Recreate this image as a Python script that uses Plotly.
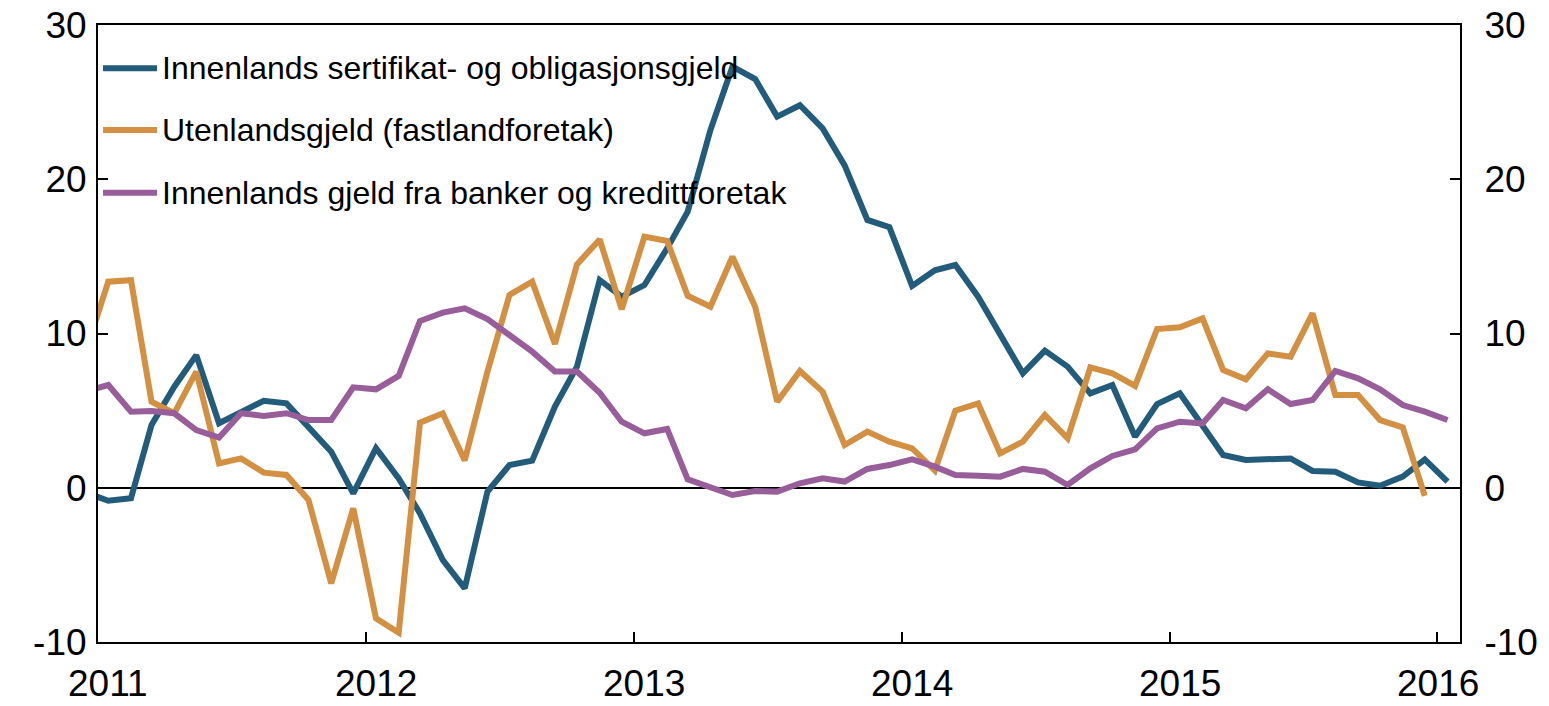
import plotly.graph_objects as go
import pandas as pd

# Monthly observations, Dec 2010 .. Jan 2016 (plotted at mid-month)
months = pd.date_range("2010-12-01", "2016-01-01", freq="MS") + pd.Timedelta(days=14)

# Innenlands sertifikat- og obligasjonsgjeld (Dec 2010 .. Jan 2016)
sertifikat = [
    -0.3,
    -0.84, -0.68, 4.07, 6.55, 8.6, 4.18, 4.93, 5.64, 5.47, 3.96, 2.34, -0.36,
    2.56, 0.61, -1.66, -4.68, -6.52, -0.25, 1.47, 1.76, 5.26, 7.85, 13.47, 12.39,
    13.14, 15.52, 17.9, 23.19, 27.3, 26.5, 24.06, 24.8, 23.3, 20.9, 17.36, 16.9,
    13.08, 14.1, 14.44, 12.39, 9.9, 7.42, 8.89, 7.85, 6.12, 6.66, 3.31, 5.43,
    6.12, 4.07, 2.12, 1.8, 1.86, 1.9, 1.09, 1.04, 0.35, 0.13, 0.72, 1.84,
    0.4,
]

# Utenlandsgjeld (fastlandforetak) (Dec 2010 .. Dec 2015)
utenlands = [
    8.8,
    13.36, 13.45, 5.58, 4.83, 7.53, 1.58, 1.9, 0.98, 0.83, -0.79, -6.2, -1.33,
    -8.47, -9.4, 4.22, 4.83, 1.76, 7.53, 12.5, 13.36, 9.32, 14.48, 16.1, 11.57,
    16.28, 16.0, 12.45, 11.74, 14.98, 11.74, 5.58, 7.57, 6.23, 2.77, 3.64, 2.99,
    2.55, 1.11, 5.0, 5.47, 2.23, 2.99, 4.72, 3.2, 7.81, 7.42, 6.6, 10.29,
    10.4, 10.98, 7.63, 7.03, 8.71, 8.5, 11.31, 6.01, 6.01, 4.39, 3.92, -0.53,
]

# Innenlands gjeld fra banker og kredittforetak (Dec 2010 .. Jan 2016)
banker = [
    6.25,
    6.66, 4.93, 4.98, 4.83, 3.74, 3.25, 4.83, 4.65, 4.83, 4.39, 4.39, 6.51,
    6.38, 7.25, 10.81, 11.35, 11.63, 10.94, 9.9, 8.82, 7.53, 7.53, 6.16, 4.28,
    3.53, 3.81, 0.55, 0.0, -0.47, -0.21, -0.25, 0.29, 0.61, 0.4, 1.22, 1.47,
    1.84, 1.37, 0.83, 0.78, 0.72, 1.22, 1.04, 0.18, 1.26, 2.06, 2.49, 3.85,
    4.28, 4.17, 5.69, 5.15, 6.38, 5.43, 5.69, 7.57, 7.09, 6.38, 5.36, 4.93,
    4.39,
]

series_names = [
    "Innenlands sertifikat- og obligasjonsgjeld",
    "Utenlandsgjeld (fastlandforetak)",
    "Innenlands gjeld fra banker og kredittforetak",
]
colors = ["#235b7b", "#d38f42", "#975e9a"]

year_ticks = ["2011-01-01", "2012-01-01", "2013-01-01", "2014-01-01", "2015-01-01", "2016-01-01"]
year_labels = ["2011", "2012", "2013", "2014", "2015", "2016"]
y_ticks = [-10, 0, 10, 20, 30]
y_labels = ["-10", "0", "10", "20", "30"]

FONT = "Arial, 'Liberation Sans', sans-serif"
TICK_SIZE = 37

fig = go.Figure()
for name, vals, col in zip(series_names, [sertifikat, utenlands, banker], colors):
    fig.add_trace(go.Scatter(
        x=months[:len(vals)], y=vals, mode="lines", name=name,
        line=dict(color=col, width=6), showlegend=False,
    ))
# invisible trace for right axis
fig.add_trace(go.Scatter(x=[months[1]], y=[0], yaxis="y2", mode="lines",
                         showlegend=False, hoverinfo="skip", line=dict(width=0)))

fig.update_layout(
    width=1549, height=706,
    margin=dict(l=98, r=89, t=25, b=64, autoexpand=False),
    paper_bgcolor="white", plot_bgcolor="white",
    font=dict(family=FONT, size=TICK_SIZE, color="black"),
    xaxis=dict(
        range=["2011-01-01", "2016-02-01"],
        tickvals=year_ticks, showticklabels=False, automargin=False,
        ticks="inside", ticklen=10, tickwidth=2, tickcolor="black",
        showline=True, linecolor="black", linewidth=2, mirror=True,
        showgrid=False, zeroline=False,
    ),
    yaxis=dict(
        range=[-10, 30], tickvals=y_ticks, ticktext=y_labels, automargin=False,
        ticks="inside", ticklen=10, tickwidth=2, tickcolor="black",
        showline=True, linecolor="black", linewidth=2,
        showgrid=False, zeroline=True, zerolinecolor="black", zerolinewidth=1.5,
        ticklabelstandoff=2, tickfont=dict(size=TICK_SIZE),
    ),
    yaxis2=dict(
        range=[-10, 30], tickvals=y_ticks, ticktext=y_labels, automargin=False,
        overlaying="y", side="right",
        ticks="inside", ticklen=10, tickwidth=2, tickcolor="black",
        showline=True, linecolor="black", linewidth=2,
        showgrid=False, zeroline=False,
        ticklabelstandoff=15, tickfont=dict(size=TICK_SIZE),
    ),
)

# year labels (slightly right of the year ticks, as in the reference)
label_shift = [10, 10, 10, 10, 10, 1]
for xv, lab, sh in zip(year_ticks, year_labels, label_shift):
    fig.add_annotation(x=xv, xref="x", y=0, yref="paper", text=lab,
                       showarrow=False, xanchor="center", yanchor="top",
                       xshift=sh, yshift=-20, borderpad=0,
                       font=dict(family=FONT, size=TICK_SIZE, color="black"))

# custom legend (long line samples as in the reference)
legend_rows = [0.930, 0.830, 0.728]
for name, col, yy in zip(series_names, colors, legend_rows):
    fig.add_shape(type="line", xref="paper", yref="paper",
                  x0=0.0037, x1=0.0433, y0=yy, y1=yy,
                  line=dict(color=col, width=6))
    fig.add_annotation(xref="paper", yref="paper", x=0.0455, y=yy,
                       text=name, showarrow=False, xanchor="left", yanchor="middle",
                       font=dict(family=FONT, size=32, color="black"))

# remove the browser's default 8px page margin so the figure fills the window
fig.write_html("out.html", config={"displayModeBar": False},
               post_script="document.body.style.margin='0';")
